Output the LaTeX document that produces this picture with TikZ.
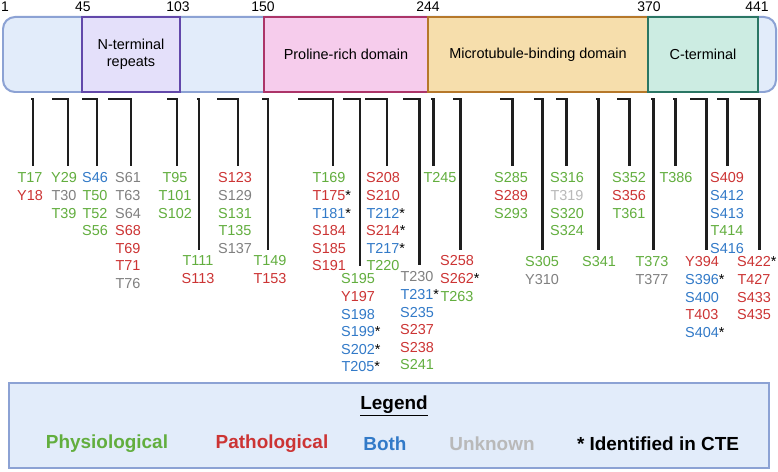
\documentclass[tikz,border=0pt]{standalone}
\usepackage{fontspec}
\setmainfont{Liberation Sans}
\definecolor{cg}{RGB}{98,174,62}
\definecolor{cr}{RGB}{204,52,52}
\definecolor{cb}{RGB}{50,122,200}
\definecolor{cy}{RGB}{128,128,128}
\definecolor{cl}{RGB}{185,185,185}
\definecolor{barf}{RGB}{226,236,250}
\definecolor{bard}{RGB}{140,162,212}
\definecolor{nf}{RGB}{228,224,250}\definecolor{nd}{RGB}{98,72,170}
\definecolor{pf}{RGB}{246,204,236}\definecolor{pd}{RGB}{172,52,104}
\definecolor{mf}{RGB}{246,222,172}\definecolor{md}{RGB}{182,120,42}
\definecolor{tf}{RGB}{204,236,226}\definecolor{td}{RGB}{42,118,100}
\definecolor{lnk}{RGB}{30,30,30}
\newcommand\cte{\rlap{\color{black}*}}
\newcommand\labcol[4]{%
  \foreach \c/\t [count=\i] in {#4}
    \node[site,text=\c] (#1-\i) at (#2,{#3+(\i-1)*17.6}) {\t};}
\newcommand\brk[4]{% left x, vertical x, bottom y, name
  \coordinate (#4a) at (#1,99); \coordinate (#4b) at (#2,99); \coordinate (#4c) at (#2,#3);
  \draw[link] (#4a) -- (#4b) -- (#4c);}
\begin{document}
\begin{tikzpicture}[x=1bp,y=-1bp,
  site/.style={font=\fontsize{14.5}{16}\selectfont,inner sep=0pt},
  num/.style={font=\fontsize{14}{16}\selectfont,inner sep=0pt},
  dom/.style={line width=2pt,font=\fontsize{14.5}{17}\selectfont,align=center},
  link/.style={draw=lnk,line width=3pt,line join=miter},
  leg/.style={font=\fontsize{19}{21}\selectfont\bfseries,inner sep=0pt}]
\useasboundingbox (0,0) rectangle (778,472);
\fill[white] (0,0) rectangle (778,472);
% bar
\draw[fill=barf,draw=bard,line width=2pt,rounded corners=12bp] (3,17) rectangle (776,92);
\draw[dom,fill=nf,draw=nd] (82,17) rectangle node (nt) {N-terminal\\repeats} (180,92);
\draw[dom,fill=pf,draw=pd] (264,17) rectangle node (pr) {Proline-rich domain} (428,92);
\draw[dom,fill=mf,draw=md] (428,17) rectangle node (mt) {Microtubule-binding domain} (648,92);
\draw[dom,fill=tf,draw=td] (648,17) rectangle node (ct) {C-terminal} (758,92);
\foreach \x/\n [count=\i] in {5/1,83/45,178/103,263/150,428/244,649/370,757/441}
  \node[num] (n\i) at (\x,7) {\n};
% brackets
\brk{31}{33}{166}{b1}\brk{52}{68}{166}{b2}\brk{82}{97}{166}{b3}\brk{108}{131}{166}{b4}
\brk{167}{177}{166}{b5}\brk{197}{199}{250}{b6}\brk{217}{238}{166}{b7}\brk{262}{268}{250}{b8}
\brk{298}{333}{166}{b9}\brk{343}{360}{266}{b10}\brk{365}{387}{166}{b11}\brk{403}{419}{265}{b12}
\brk{431}{433}{166}{b13}\brk{453}{460}{250}{b14}\brk{500}{512}{166}{b15}\brk{534}{542}{250}{b16}
\brk{556}{566}{166}{b17}\brk{596}{598}{250}{b18}\brk{617}{629}{166}{b19}\brk{651}{653}{250}{b20}
\brk{673}{675}{166}{b21}\brk{690}{706}{250}{b22}\brk{717}{727}{166}{b23}\brk{740}{759}{250}{b24}
% labels
\labcol{l1}{30}{178}{cg/T17,cr/Y18}
\labcol{l2}{64}{178}{cg/Y29,cy/T30,cg/T39}
\labcol{l3}{95}{178}{cb/S46,cg/T50,cg/T52,cg/S56}
\labcol{l4}{128}{178}{cy/S61,cy/T63,cy/S64,cr/S68,cr/T69,cr/T71,cy/T76}
\labcol{l5}{175}{178}{cg/T95,cg/T101,cg/S102}
\labcol{l6}{198}{261}{cg/T111,cr/S113}
\labcol{l7}{235}{178}{cr/S123,cy/S129,cg/S131,cg/T135,cy/S137}
\labcol{l8}{270}{261}{cg/T149,cr/T153}
\labcol{l9}{329}{178}{cg/T169,cr/T175\cte,cb/T181\cte,cr/S184,cr/S185,cr/S191}
\labcol{l10}{358}{279}{cg/S195,cr/Y197,cb/S198,cb/S199\cte,cb/S202\cte,cb/T205\cte}
\labcol{l11}{383}{178}{cr/S208,cr/S210,cb/T212\cte,cr/S214\cte,cb/T217\cte,cg/T220}
\labcol{l12}{417}{277}{cy/T230,cb/T231\cte,cb/S235,cr/S237,cr/S238,cg/S241}
\labcol{l13}{440}{178}{cg/T245}
\labcol{l14}{457}{261}{cr/S258,cr/S262\cte,cg/T263}
\labcol{l15}{511}{178}{cg/S285,cr/S289,cg/S293}
\labcol{l16}{542}{262}{cg/S305,cy/Y310}
\labcol{l17}{567}{178}{cg/S316,cl/T319,cg/S320,cg/S324}
\labcol{l18}{599}{262}{cg/S341}
\labcol{l19}{629}{178}{cg/S352,cr/S356,cg/T361}
\labcol{l20}{652}{262}{cg/T373,cy/T377}
\labcol{l21}{676}{178}{cg/T386}
\labcol{l22}{702}{262}{cr/Y394,cb/S396\cte,cb/S400,cr/T403,cb/S404\cte}
\labcol{l23}{727}{178}{cr/S409,cb/S412,cb/S413,cg/T414,cb/S416}
\labcol{l24}{754}{262}{cr/S422\cte,cr/T427,cr/S433,cr/S435}
% legend
\draw[fill=barf,draw=bard,line width=2pt] (9,383) rectangle (769,468);
\node[leg] (lg) at (394,406) {\underline{Legend}};
\node[leg,text=cg] (lp) at (107,444) {Physiological};
\node[leg,text=cr] (la) at (272,444) {Pathological};
\node[leg,text=cb] (lb) at (385,444) {Both};
\node[leg,text=cl] (lu) at (492,444) {Unknown};
\node[leg] (li) at (658,444) {* Identified in CTE};
\end{tikzpicture}
\end{document}
